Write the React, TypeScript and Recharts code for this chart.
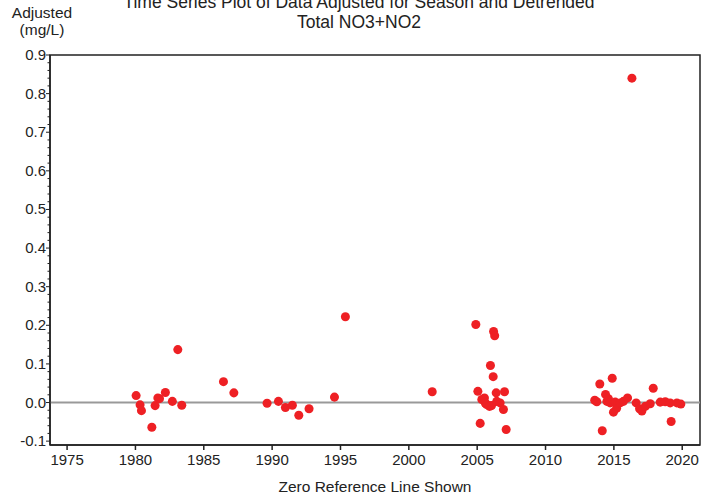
import React from 'react';
import { ScatterChart, Scatter, XAxis, YAxis, ReferenceLine, ReferenceArea, Label } from 'recharts';

// decimal year of each sample and its season-adjusted, detrended value (mg/L)
const years = [
  1980.05, 1980.34, 1980.44, 1981.2, 1981.44, 1981.64, 1981.76, 1982.19, 1982.7, 1983.1, 1983.39,
  1986.44, 1987.2,
  1989.63, 1990.46, 1990.97, 1991.48, 1991.95, 1992.7, 1994.56, 1995.36,
  2001.71,
  2004.9, 2005.05, 2005.22, 2005.34, 2005.53, 2005.6, 2005.7, 2005.9, 2005.97, 2006.05, 2006.17,
  2006.2, 2006.28, 2006.39, 2006.43, 2006.68, 2006.92, 2007.0, 2007.12,
  2013.6, 2013.75, 2013.97, 2014.15, 2014.39, 2014.49, 2014.6, 2014.73, 2014.88, 2014.97, 2015.1,
  2015.2, 2015.46, 2015.7, 2016.0, 2016.32, 2016.63, 2016.88, 2017.05, 2017.3, 2017.66, 2017.88,
  2018.39, 2018.76, 2019.12, 2019.19, 2019.61, 2019.9,
];
const adjusted = [
  0.018, -0.006, -0.021, -0.064, -0.008, 0.012, 0.01, 0.026, 0.003, 0.137, -0.007,
  0.054, 0.025,
  -0.002, 0.003, -0.013, -0.007, -0.033, -0.016, 0.014, 0.222,
  0.028,
  0.202, 0.029, -0.054, 0.008, 0.012, -0.002, -0.005, -0.01, 0.096, -0.008, 0.067,
  0.184, 0.173, 0.025, 0.003, -0.001, -0.018, 0.028, -0.07,
  0.006, 0.002, 0.048, -0.073, 0.021, 0.003, 0.01, -0.001, 0.063, -0.025, 0.001,
  -0.015, -0.001, 0.003, 0.012, 0.84, -0.001, -0.016, -0.022, -0.01, -0.003, 0.037,
  0.001, 0.002, -0.001, -0.049, -0.001, -0.004,
];

const xTicks = [1975, 1980, 1985, 1990, 1995, 2000, 2005, 2010, 2015, 2020];
const X_DOMAIN = [1973.75, 2021.3];
const Y_DOMAIN = [-0.11, 0.9];

const data = years.map((year, i) => ({ year, value: adjusted[i] }));

// minor ticks every 0.02, labels on the 0.1 ones
const yTicks: number[] = [];
for (let i = -5; i <= 45; i++) yTicks.push(i / 50);

const FONT = '"Liberation Sans", Arial, sans-serif';
const INK = '#222';

const YTick = (props: any) => {
  const { x, y, payload } = props;
  const major = Math.abs(Math.round(payload.value * 50)) % 5 === 0;
  return (
    <g>
      <line x1={x - (major ? 4 : 2.5)} x2={x} y1={y} y2={y} stroke={INK} strokeWidth={1} />
      {major && (
        <text x={x - 4} y={y} dy={5} textAnchor="end" fontSize={15} fill={INK} fontFamily={FONT}>
          {payload.value.toFixed(1)}
        </text>
      )}
    </g>
  );
};

const App = () => {
  return (
    <div style={{ position: 'absolute', left: 0, top: 0, width: 718, height: 498, fontFamily: FONT, background: '#fff' }}>
      <div style={{ position: 'absolute', left: 0, width: 718, top: -8, textAlign: 'center', fontSize: 17.5, color: INK, lineHeight: '20px' }}>
        Time Series Plot of Data Adjusted for Season and Detrended
        <br />
        Total NO3+NO2
      </div>
      <div style={{ position: 'absolute', left: 2, width: 80, top: 4, textAlign: 'center', fontSize: 15.5, color: INK, lineHeight: '17px' }}>
        Adjusted
        <br />
        (mg/L)
      </div>
      <ScatterChart width={718} height={498} margin={{ top: 55, right: 18, bottom: 0, left: 0 }}>
        <XAxis
          type="number"
          dataKey="year"
          domain={X_DOMAIN}
          ticks={xTicks}
          allowDataOverflow
          height={53}
          stroke={INK}
          strokeWidth={1.5}
          tickSize={5}
          tickMargin={4}
          tick={{ fontSize: 15, fill: INK, fontFamily: FONT }}
        >
          <Label value="Zero Reference Line Shown" position="insideBottom" offset={6} fontSize={15.5} fill={INK} fontFamily={FONT} />
        </XAxis>
        <YAxis
          type="number"
          dataKey="value"
          domain={Y_DOMAIN}
          ticks={yTicks}
          allowDataOverflow
          width={50}
          stroke={INK}
          strokeWidth={1.5}
          tickLine={false}
          tickSize={0}
          tickMargin={0}
          interval={0}
          tick={<YTick />}
        />
        <ReferenceArea x1={X_DOMAIN[0]} x2={X_DOMAIN[1]} y1={Y_DOMAIN[0]} y2={Y_DOMAIN[1]} fill="none" stroke={INK} strokeWidth={1.5} />
        <ReferenceLine y={0} stroke="#999" strokeWidth={2} />
        <Scatter data={data} fill="#ee2024" shape="circle" isAnimationActive={false} legendType="none" r={5.5} />
      </ScatterChart>
    </div>
  );
};

export default App;
